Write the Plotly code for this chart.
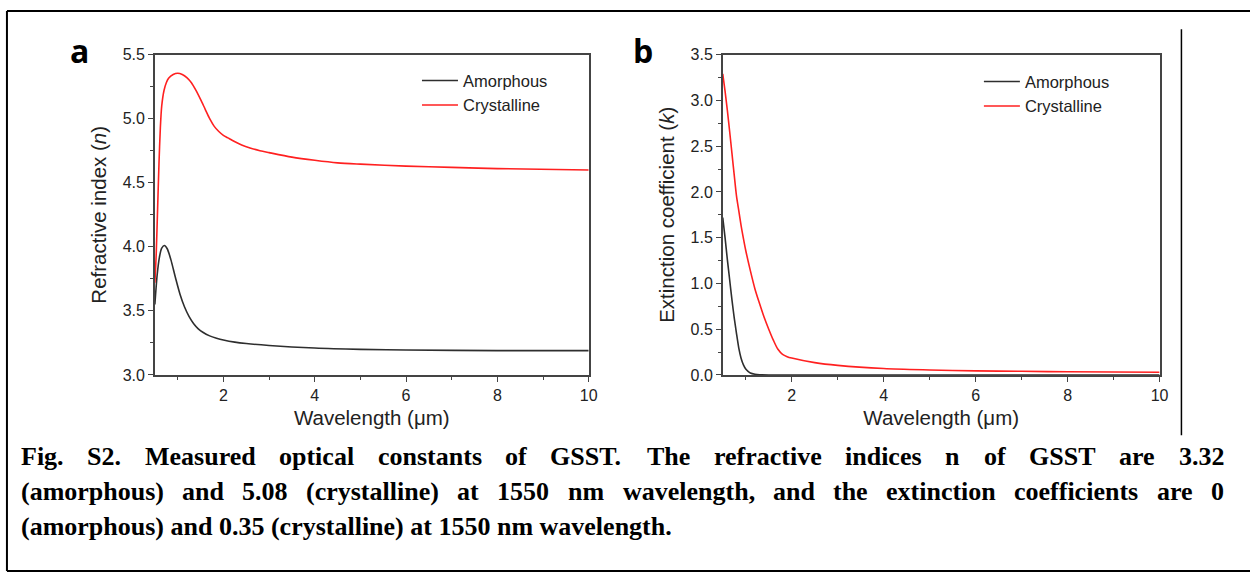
import plotly.graph_objects as go

W, H = 1250, 582

# ---------------- data ----------------
wl_n_am = [0.5, 0.55, 0.6, 0.65, 0.71, 0.77, 0.85, 0.95, 1.05, 1.15, 1.25, 1.35, 1.45, 1.55,
           1.7, 1.85, 2.0, 2.25, 2.5, 3.0, 4.0, 5.0, 6.0, 8.0, 10.0]
n_am = [3.55, 3.78, 3.92, 3.99, 4.01, 3.985, 3.90, 3.76, 3.63, 3.53, 3.455, 3.40, 3.36, 3.333,
        3.305, 3.287, 3.273, 3.256, 3.245, 3.23, 3.21, 3.20, 3.195, 3.19, 3.19]

wl_n_cr = [0.5, 0.53, 0.56, 0.59, 0.62, 0.65, 0.7, 0.75, 0.8, 0.9, 1.0, 1.1, 1.2, 1.3, 1.4,
           1.5, 1.6, 1.7, 1.8, 1.9, 2.0, 2.1, 2.2, 2.4, 2.6, 2.8, 3.0, 3.5, 4.0, 4.5, 5.0,
           6.0, 7.0, 8.0, 10.0]
n_cr = [3.72, 3.95, 4.30, 4.65, 4.93, 5.10, 5.22, 5.28, 5.315, 5.345, 5.355, 5.345, 5.32, 5.28,
        5.22, 5.15, 5.075, 5.00, 4.94, 4.90, 4.87, 4.85, 4.83, 4.795, 4.77, 4.75, 4.735, 4.70,
        4.675, 4.655, 4.645, 4.63, 4.62, 4.61, 4.60]

wl_k_am = [0.5, 0.55, 0.6, 0.65, 0.7, 0.75, 0.8, 0.85, 0.9, 0.95, 1.0, 1.05, 1.1, 1.2, 1.3,
           1.5, 2.0, 4.0, 6.0, 8.0, 10.0]
k_am = [1.72, 1.50, 1.26, 1.04, 0.82, 0.62, 0.45, 0.29, 0.18, 0.11, 0.065, 0.04, 0.022, 0.008,
        0.002, 0.0, 0.0, 0.0, 0.0, 0.0, 0.0]

wl_k_cr = [0.5, 0.55, 0.6, 0.65, 0.7, 0.75, 0.8, 0.85, 0.9, 0.95, 1.0, 1.1, 1.2, 1.3, 1.4,
           1.5, 1.6, 1.7, 1.8, 1.9, 2.0, 2.5, 3.0, 4.0, 5.0, 6.0, 7.0, 8.0, 10.0]
k_cr = [3.29, 3.10, 2.89, 2.66, 2.42, 2.18, 1.95, 1.79, 1.63, 1.49, 1.36, 1.14, 0.94, 0.78,
        0.63, 0.50, 0.38, 0.28, 0.225, 0.20, 0.185, 0.135, 0.105, 0.07, 0.055, 0.045, 0.04,
        0.035, 0.03]

series_names = ["Amorphous", "Crystalline"]
panel_labels = ["a", "b"]
x_title = "Wavelength (\u03bcm)"
y_titles = ["Refractive index (<i>n</i>)", "Extinction coefficient (<i>k</i>)"]
caption_lines = [
    "Fig. S2. Measured optical constants of GSST. The refractive indices n of GSST are 3.32",
    "(amorphous) and 5.08 (crystalline) at 1550 nm wavelength, and the extinction coefficients are 0",
    "(amorphous) and 0.35 (crystalline) at 1550 nm wavelength.",
]

# ---------------- style ----------------
C_AM = "#2e2e2e"
C_CR = "#ff2020"
AX = "#444444"
SANS = "Liberation Sans, Arial, sans-serif"
SERIF = "Liberation Serif, Times New Roman, serif"


def px(x):
    return x / W


def py(y):
    return 1 - y / H


fig = go.Figure()
fig.add_trace(go.Scatter(x=wl_n_am, y=n_am, mode="lines", name=series_names[0],
                         line=dict(color=C_AM, width=1.6, shape="spline", smoothing=0.8),
                         xaxis="x", yaxis="y", legend="legend"))
fig.add_trace(go.Scatter(x=wl_n_cr, y=n_cr, mode="lines", name=series_names[1],
                         line=dict(color=C_CR, width=1.6, shape="spline", smoothing=0.8),
                         xaxis="x", yaxis="y", legend="legend"))
fig.add_trace(go.Scatter(x=wl_k_am, y=k_am, mode="lines", name=series_names[0],
                         line=dict(color=C_AM, width=1.6, shape="spline", smoothing=0.5),
                         xaxis="x2", yaxis="y2", legend="legend2"))
fig.add_trace(go.Scatter(x=wl_k_cr, y=k_cr, mode="lines", name=series_names[1],
                         line=dict(color=C_CR, width=1.6, shape="spline", smoothing=0.8),
                         xaxis="x2", yaxis="y2", legend="legend2"))

PA = dict(l=156, r=593, t=48, b=378)
PB = dict(l=728, r=1168, t=48, b=378)

TICKFONT = dict(family=SANS, size=16, color="#222")
TITLEFONT = dict(family=SANS, size=20.5, color="#222")


def xaxis(p, anchor):
    return dict(domain=[px(p["l"]), px(p["r"])], anchor=anchor, range=[0.5, 10],
                tick0=0, dtick=2, ticks="outside", ticklen=5, tickwidth=1.2, tickcolor=AX,
                minor=dict(ticks="outside", ticklen=3, dtick=1, tick0=0, tickcolor=AX, tickwidth=1.2),
                showline=True, linecolor=AX, linewidth=1.5, mirror=True, showgrid=False,
                zeroline=False, tickfont=TICKFONT,
                title=dict(text=x_title, font=TITLEFONT, standoff=8))


def yaxis(p, anchor, rng, title):
    return dict(domain=[py(p["b"]), py(p["t"])], anchor=anchor, range=rng,
                dtick=0.5, tick0=0, ticks="outside", ticklen=5, tickwidth=1.2, tickcolor=AX,
                minor=dict(ticks="outside", ticklen=3, dtick=0.25, tick0=0, tickcolor=AX, tickwidth=1.2),
                showline=True, linecolor=AX, linewidth=1.5, mirror=True, showgrid=False,
                zeroline=False, tickformat=".1f", tickfont=TICKFONT,
                title=dict(text=title, font=TITLEFONT, standoff=10))


legend_common = dict(xanchor="left", yanchor="top", bgcolor="rgba(0,0,0,0)", borderwidth=0,
                     font=dict(family=SANS, size=16.5, color="#222"), tracegroupgap=0,
                     itemwidth=36)

# ---- caption, justified word by word (Times Bold advance widths, 1/1000 em)
TW = {" ": 250, "(": 333, ")": 333, ",": 250, ".": 250, "A": 722, "F": 611, "G": 778,
      "M": 944, "S": 556, "T": 667, "a": 500, "b": 556, "c": 444, "d": 556, "e": 444,
      "f": 333, "g": 500, "h": 556, "i": 278, "l": 278, "m": 833, "n": 556, "o": 500,
      "p": 556, "r": 444, "s": 389, "t": 333, "u": 556, "v": 500, "w": 722, "x": 500,
      "y": 500}
for d in "0123456789":
    TW[d] = 500
CAP_FS = 26
CAP_L, CAP_R = 20, 1232
CAP_Y = [462, 498, 534]

annotations = []
for i, line in enumerate(caption_lines):
    words = line.split(" ")
    if i < len(caption_lines) - 1:
        widths = [sum(TW.get(ch, 500) for ch in w) * CAP_FS / 1000.0 for w in words]
        gap = (CAP_R - CAP_L - sum(widths)) / (len(words) - 1)
        x = CAP_L
        for w, wd in zip(words, widths):
            annotations.append(dict(text="<b>" + w + "</b>", x=px(x), y=py(CAP_Y[i]),
                                    xref="paper", yref="paper", xanchor="left", yanchor="middle",
                                    showarrow=False, borderpad=0,
                                    font=dict(family=SERIF, size=CAP_FS, color="#000")))
            x += wd + gap
    else:
        annotations.append(dict(text="<b>" + line + "</b>", x=px(CAP_L), y=py(CAP_Y[i]),
                                xref="paper", yref="paper", xanchor="left", yanchor="middle",
                                showarrow=False, borderpad=0,
                                font=dict(family=SERIF, size=CAP_FS, color="#000")))

for lab, (lx, ly) in zip(panel_labels, [(80, 44), (648, 44)]):
    annotations.append(dict(text="<b>" + lab + "</b>", x=px(lx), y=py(ly), xref="paper",
                            yref="paper", xanchor="center", yanchor="middle", showarrow=False,
                            font=dict(family="Open Sans, sans-serif", size=32, color="#000")))

shapes = [
    dict(type="line", xref="paper", yref="paper", x0=px(7), x1=px(7), y0=py(3), y1=py(580),
         line=dict(color="#000", width=2)),
    dict(type="line", xref="paper", yref="paper", x0=px(7), x1=1.01, y0=py(3), y1=py(3),
         line=dict(color="#000", width=2)),
    dict(type="line", xref="paper", yref="paper", x0=px(7), x1=1.01, y0=py(580), y1=py(580),
         line=dict(color="#000", width=2)),
    dict(type="line", xref="paper", yref="paper", x0=px(1190), x1=px(1190), y0=py(22), y1=py(440),
         line=dict(color="#000", width=1.5)),
]

fig.update_layout(
    width=W, height=H, margin=dict(l=0, r=0, t=0, b=0),
    paper_bgcolor="white", plot_bgcolor="white",
    xaxis=xaxis(PA, "y"), yaxis=yaxis(PA, "x", [3.0, 5.5], y_titles[0]),
    xaxis2=xaxis(PB, "y2"), yaxis2=yaxis(PB, "x2", [0.0, 3.5], y_titles[1]),
    legend=dict(x=px(420), y=py(57), **legend_common),
    legend2=dict(x=px(986), y=py(58), **legend_common),
    annotations=annotations, shapes=shapes, showlegend=True,
)

fig.write_html("out.html")
